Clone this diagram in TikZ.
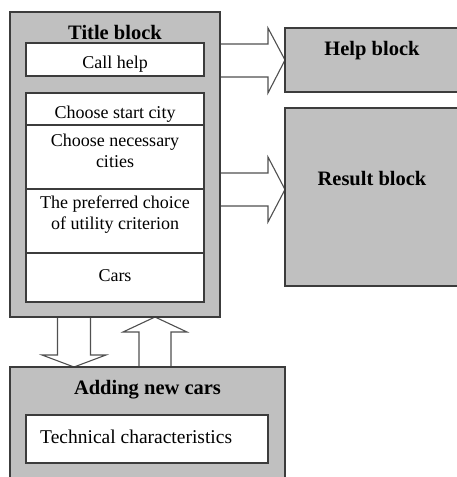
\documentclass[tikz,border=0pt]{standalone}
\usepackage{fontspec}
\setmainfont{Liberation Serif}
\newfontfamily\rmtext{Liberation Serif}
\definecolor{boxgray}{HTML}{C0C0C0}
\definecolor{edgec}{HTML}{3C3C3C}
\definecolor{arrc}{HTML}{505050}
\pgfdeclarelayer{bg}
\pgfsetlayers{bg,main}
\tikzset{
 graybox/.style={draw=edgec, fill=boxgray, line width=1.3pt, inner sep=0pt, outer sep=0pt, anchor=north west},
 cell/.style={draw=edgec, fill=white, line width=1.2pt, inner sep=0pt, outer sep=0pt, anchor=north west},
 blockarrow/.style={draw=arrc, fill=white, line width=1.1pt, line join=miter},
 hdr/.style={font=\rmtext\fontsize{20.5}{24}\selectfont\bfseries, anchor=base, inner sep=0pt},
 txt/.style={font=\rmtext\fontsize{18}{21.5}\selectfont, align=center, inner sep=0pt, text height=12.5pt, text depth=4pt},
 lbl/.style={font=\rmtext\fontsize{18}{21.5}\selectfont, anchor=base, inner sep=0pt},
}
\begin{document}
\begin{tikzpicture}[x=1pt,y=-1pt]
\useasboundingbox (0,0) rectangle (457,477);
\clip (0,0) rectangle (457,477);
% blocks
\node[graybox, minimum width=210pt, minimum height=305pt] (title) at (10,12) {};
\node[graybox, minimum width=174pt, minimum height=64pt] (help) at (285,28) {};
\node[graybox, minimum width=174pt, minimum height=178pt] (result) at (285,108) {};
\node[graybox, minimum width=275pt, minimum height=130pt] (adding) at (10,367) {};
% cells
\node[cell, minimum width=178pt, minimum height=33pt] (callhelp) at (26,43) {};
\node[cell, minimum width=178pt, minimum height=32pt] (start) at (26,93) {};
\node[cell, minimum width=178pt, minimum height=64pt] (necessary) at (26,125) {};
\node[cell, minimum width=178pt, minimum height=64pt] (pref) at (26,189) {};
\node[cell, minimum width=178pt, minimum height=49pt] (cars) at (26,253) {};
\node[cell, minimum width=242pt, minimum height=48pt] (tech) at (26,415) {};
% labels
\node[hdr] (titlelbl) at (115,39) {Title block};
\node[hdr] (helplbl) at (372,55) {Help block};
\node[hdr] (resultlbl) at (372,185.7) {Result block};
\node[hdr] (addinglbl) at (147.5,394.3) {Adding new cars};
\node[lbl] (callhelplbl) at (115,68.3) {Call help};
\node[lbl] (startlbl) at (115,118) {Choose start city};
\node[txt] (necessarylbl) at (115,163.4) {Choose necessary\\cities};
\node[txt] (preflbl) at (115,225.6) {The preferred choice\\of utility criterion};
\node[lbl] (carslbl) at (115,281) {Cars};
\node[lbl, anchor=base west, font=\rmtext\fontsize{19.5}{22}\selectfont] (techlbl) at (40,443.3) {Technical characteristics};
% block arrows
\begin{pgfonlayer}{bg}
\draw[blockarrow] (title.east |- 0,44) -- (268,44) -- (268,28) -- (help.west |- 0,60) -- (268,93) -- (268,77) -- (title.east |- 0,77);
\draw[blockarrow] (title.east |- 0,173) -- (268,173) -- (268,157) -- (result.west |- 0,189.5) -- (268,222) -- (268,206) -- (title.east |- 0,206);
\draw[blockarrow] (57.5,0 |- title.south) -- (57.5,355) -- (42,355) -- (74,0 |- adding.north) -- (106,355) -- (90.5,355) -- (90.5,0 |- title.south);
\draw[blockarrow] (139,0 |- adding.north) -- (139,332) -- (123,332) -- (155,0 |- title.south) -- (187,332) -- (171,332) -- (171,0 |- adding.north);
\end{pgfonlayer}
\end{tikzpicture}
\end{document}
